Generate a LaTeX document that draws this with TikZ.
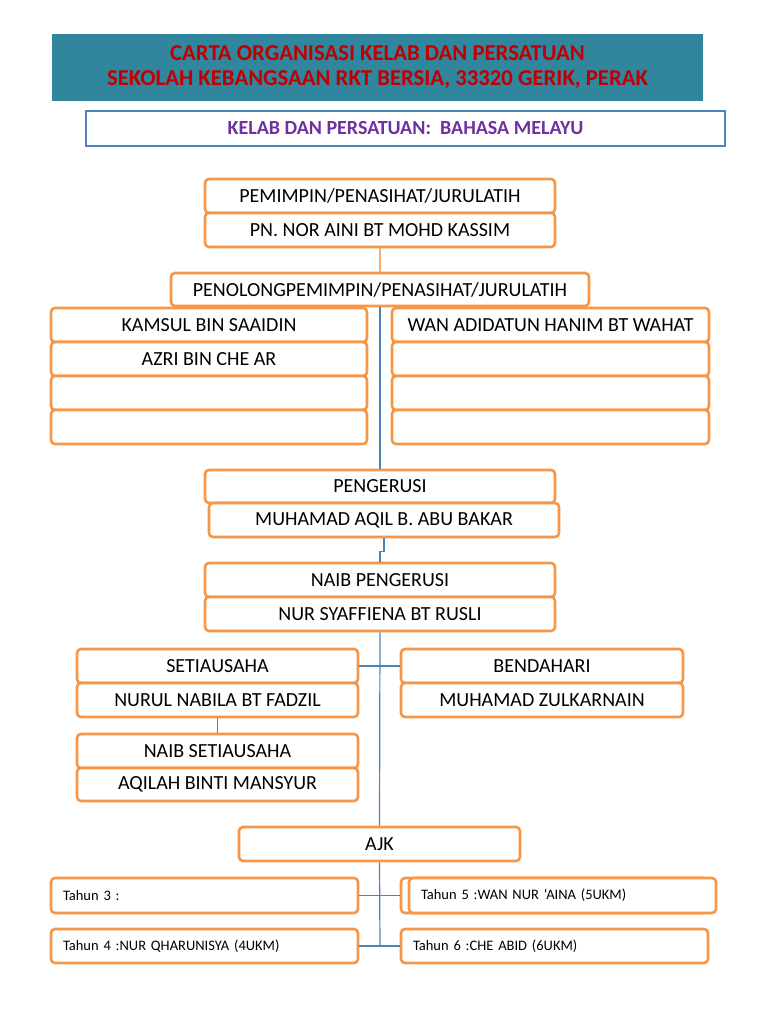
\documentclass[tikz,border=0pt]{standalone}
\usepackage{fontspec}
\setmainfont{Carlito}
\definecolor{tealhd}{HTML}{31859C}
\definecolor{redtx}{HTML}{C00000}
\definecolor{bluebd}{HTML}{4F81BD}
\definecolor{purptx}{HTML}{7030A0}
\definecolor{orng}{HTML}{F79646}
\definecolor{lineblue}{HTML}{4F81BD}
\begin{document}
\begin{tikzpicture}[x=1pt,y=-1pt,
  obox/.style={draw=orng, line width=2.6pt, rounded corners=4pt, fill=white, inner sep=0pt,
    font=\fontsize{20}{22}\selectfont, text=black},
  tbox/.style={obox, font=\fontsize{14.5}{16}\selectfont, align=left, text width=#1},
  bline/.style={draw=lineblue, line width=1.2pt},
  oline/.style={draw=orng!80, line width=1.2pt}]
\useasboundingbox (0,0) rectangle (768,1024);
% header
\node[fill=tealhd, minimum width=651pt, minimum height=67pt, inner sep=0pt, align=center,
  text=redtx, font=\fontsize{22.7}{25}\selectfont\bfseries] (hdr) at (377.5,67.5)
  {CARTA ORGANISASI KELAB DAN PERSATUAN\\SEKOLAH KEBANGSAAN RKT BERSIA, 33320 GERIK, PERAK};
\node[draw=bluebd, line width=2.2pt, fill=white, minimum width=639pt, minimum height=35pt, inner sep=0pt,
  text=purptx, font=\fontsize{20}{22}\selectfont\bfseries] (sub) at (405.5,128.5)
  {KELAB DAN PERSATUAN:\ \ BAHASA MELAYU};
% pemimpin
\node[obox, minimum width=350pt, minimum height=34pt] (pem) at (380,196) {PEMIMPIN/PENASIHAT/JURULATIH};
\node[obox, minimum width=350pt, minimum height=34pt] (pemn) at (380,230) {PN. NOR AINI BT MOHD KASSIM};
\node[obox, minimum width=418pt, minimum height=33pt] (pen) at (380,289.5) {PENOLONGPEMIMPIN/PENASIHAT/JURULATIH};
\draw[oline] (pemn.south) -- (pen.north);
% blue spine first
\node[obox, minimum width=350pt, minimum height=33pt] (peng) at (380,486.5) {PENGERUSI};
\draw[bline] (pen.south) -- (peng.north);
% columns
\node[obox, minimum width=316pt, minimum height=34pt] (k1) at (209,325) {KAMSUL BIN SAAIDIN};
\node[obox, minimum width=316pt, minimum height=34pt] (k2) at (209,359) {AZRI BIN CHE AR};
\node[obox, minimum width=316pt, minimum height=34pt] (k3) at (209,393) {};
\node[obox, minimum width=316pt, minimum height=34pt] (k4) at (209,427) {};
\node[obox, minimum width=317pt, minimum height=34pt] (w1) at (550.5,325) {WAN ADIDATUN HANIM BT WAHAT};
\node[obox, minimum width=317pt, minimum height=34pt] (w2) at (550.5,359) {};
\node[obox, minimum width=317pt, minimum height=34pt] (w3) at (550.5,393) {};
\node[obox, minimum width=317pt, minimum height=34pt] (w4) at (550.5,427) {};
\node[obox, minimum width=350pt, minimum height=34pt] (aqil) at (384,520) {MUHAMAD AQIL B. ABU BAKAR};
% naib pengerusi
\node[obox, minimum width=350pt, minimum height=34pt] (naibp) at (380,580) {NAIB PENGERUSI};
\node[obox, minimum width=350pt, minimum height=34pt] (syaf) at (380,614) {NUR SYAFFIENA BT RUSLI};
\draw[bline] (aqil.south) -- ++(0,13) -| (naibp.north);
% AJK
\node[obox, minimum width=281pt, minimum height=34pt] (ajk) at (379.5,844) {AJK};
\draw[bline] (syaf.south) -- (ajk.north);
% setiausaha / bendahari
\node[obox, minimum width=281pt, minimum height=34pt] (set) at (217.5,666) {SETIAUSAHA};
\node[obox, minimum width=281pt, minimum height=34pt] (setn) at (217.5,700) {NURUL NABILA BT FADZIL};
\node[obox, minimum width=282pt, minimum height=34pt] (ben) at (542,666) {BENDAHARI};
\node[obox, minimum width=282pt, minimum height=34pt] (benn) at (542,700) {MUHAMAD ZULKARNAIN};
\draw[bline] (set.east) -- (ben.west);
\node[obox, minimum width=281pt, minimum height=34pt] (nset) at (217.5,751) {NAIB SETIAUSAHA};
\node[obox, minimum width=281pt, minimum height=33pt] (nsetn) at (217.5,784.5) {AQILAH BINTI MANSYUR};
\draw[bline] (setn.south) -- (nset.north);
% tahun
\coordinate (ajkend) at (380,946);
\draw[bline] (ajk.south) -- (ajkend);
\node[tbox=283pt, minimum width=307pt, minimum height=35pt] (t3) at (204.5,895.5) {Tahun 3 :};
\node[tbox=283pt, minimum width=307pt, minimum height=34pt] (t4) at (204.5,946) {Tahun 4 :NUR QHARUNISYA (4UKM)};
\node[obox, minimum width=307pt, minimum height=35pt] (t5b) at (554.5,895.5) {};
\node[tbox=283pt, minimum width=307pt, minimum height=35pt] (t5) at (562.5,895.5) {Tahun 5 :WAN NUR ‘AINA (5UKM)};
\node[tbox=283pt, minimum width=307pt, minimum height=34pt] (t6) at (554.5,946) {Tahun 6 :CHE ABID (6UKM)};
\draw[bline] (t3.east) -- (t5b.west);
\draw[bline] (t4.east) -- (t6.west);
\end{tikzpicture}
\end{document}
